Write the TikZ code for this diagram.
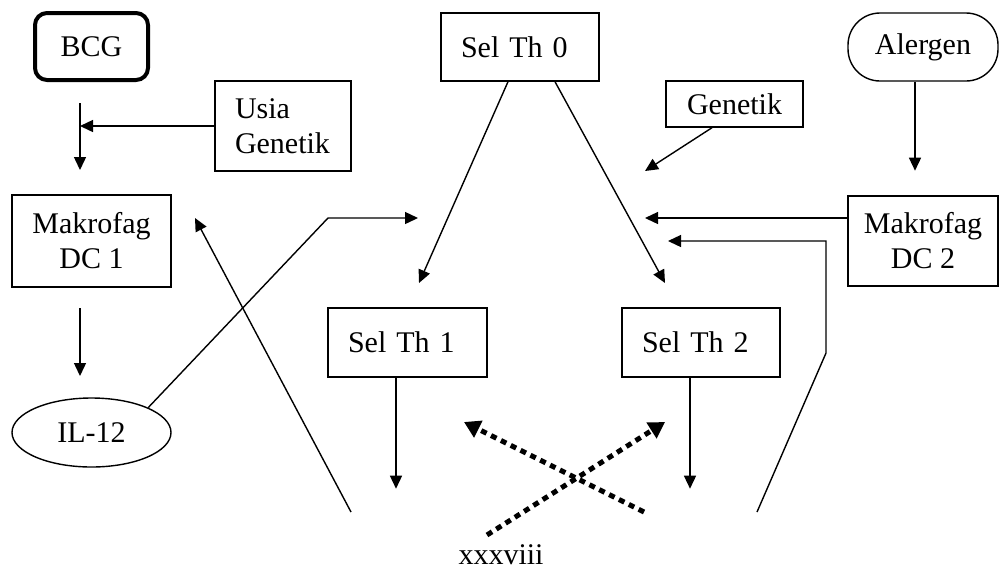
\documentclass[tikz,border=0pt]{standalone}
\usepackage{fontspec}
\setmainfont{Liberation Serif}
\usetikzlibrary{arrows.meta,shapes.geometric}

\begin{document}
\begin{tikzpicture}[x=0.5pt, y=-0.5pt, line width=0.7pt,
  font=\fontsize{15}{17.5}\selectfont,
  box/.style={draw, inner sep=0pt, align=center},
  lbox/.style={draw, inner ysep=0pt, inner xsep=10pt, align=left},
  arr/.style={-{Triangle[length=6.5pt,width=6pt]}},
  dotarr/.style={line width=2.5pt, dash pattern=on 3pt off 2.5pt,
    -{Triangle[length=8pt,width=9pt]}}]
  \useasboundingbox (0,0) rectangle (999,569);

  % boxes on the left (BCG side)
  \node[box, line width=2pt, rounded corners=6pt, minimum width=56.5pt,
    minimum height=33.5pt] (bcg) at (91.5,46.5) {BCG};
  \node[lbox, text width=48pt, minimum height=45pt] (usia) at (283,126) {Usia\\Genetik};
  \node[box, minimum width=79.5pt, minimum height=46pt] (dc1) at (91.5,241) {Makrofag\\DC 1};
  \node[draw, ellipse, inner sep=0pt, minimum width=79.5pt,
    minimum height=34.5pt] (il) at (91.5,432.5) {IL-12};

  % T helper cells
  \node[lbox, text width=59pt, minimum height=34pt] (th0) at (520,47) {Sel Th 0};
  \node[lbox, text width=59.5pt, minimum height=34.5pt] (th1) at (407.5,342.5) {Sel Th 1};
  \node[lbox, text width=59pt, minimum height=34.5pt] (th2) at (701,342.5) {Sel Th 2};

  % boxes on the right (allergen side)
  \node[box, minimum width=68.5pt, minimum height=23pt] (gen) at (734.5,104) {Genetik};
  \node[box, rounded corners=16pt, minimum width=75pt,
    minimum height=34pt] (alg) at (923,47) {Alergen};
  \node[box, minimum width=75pt, minimum height=45pt] (dc2) at (923,241) {Makrofag\\DC 2};

  % page number
  \node[anchor=base] (hal) at (501,564) {xxxviii};

  % left column
  \coordinate (a1) at (80,103);
  \coordinate (a2) at (80,170);
  \draw[arr] (a1) -- (a2);
  \draw[arr] (usia.west) -- (usia.west -| a1);
  \coordinate (b1) at (80,308);
  \coordinate (b2) at (80,376);
  \draw[arr] (b1) -- (b2);

  % IL-12 feeds the Th0 -> Th1 branch
  \coordinate (c1) at (328,218);
  \coordinate (c2) at (418,218);
  \draw[arr] (il.north east) -- (c1) -- (c2);
  \coordinate (d1) at (351,512);
  \coordinate (d2) at (195,218);
  \draw[arr] (d1) -- (d2);

  % Th0 splits into Th1 and Th2
  \coordinate (e1) at (419,283);
  \coordinate (e2) at (665,283);
  \draw[arr] ([xshift=-6pt]th0.south) -- (e1);
  \draw[arr] ([xshift=17.5pt]th0.south) -- (e2);

  % right side
  \coordinate (f1) at (645,171);
  \draw[arr] ([xshift=-11.25pt]gen.south) -- (f1);
  \draw[arr] ([xshift=-4pt]alg.south) -- ++(0,89);
  \coordinate (g1) at (645,218);
  \draw[arr] ([yshift=11.5pt]dc2.west) -- (g1);
  \coordinate (h1) at (757,512);
  \coordinate (h2) at (826,353);
  \coordinate (h3) at (668,241);
  \draw[arr] (h1) -- (h2) |- (h3);

  % outputs of Th1 and Th2
  \draw[arr] ([xshift=-5.75pt]th1.south) -- ++(0,111);
  \draw[arr] ([xshift=-5.5pt]th2.south) -- ++(0,111);

  % cross inhibition (dotted)
  \coordinate (k1) at (644,512);
  \coordinate (k2) at (464,422);
  \coordinate (m1) at (487,535);
  \coordinate (m2) at (665,422);
  \draw[dotarr] (k1) -- (k2);
  \draw[dotarr] (m1) -- (m2);
\end{tikzpicture}
\end{document}
